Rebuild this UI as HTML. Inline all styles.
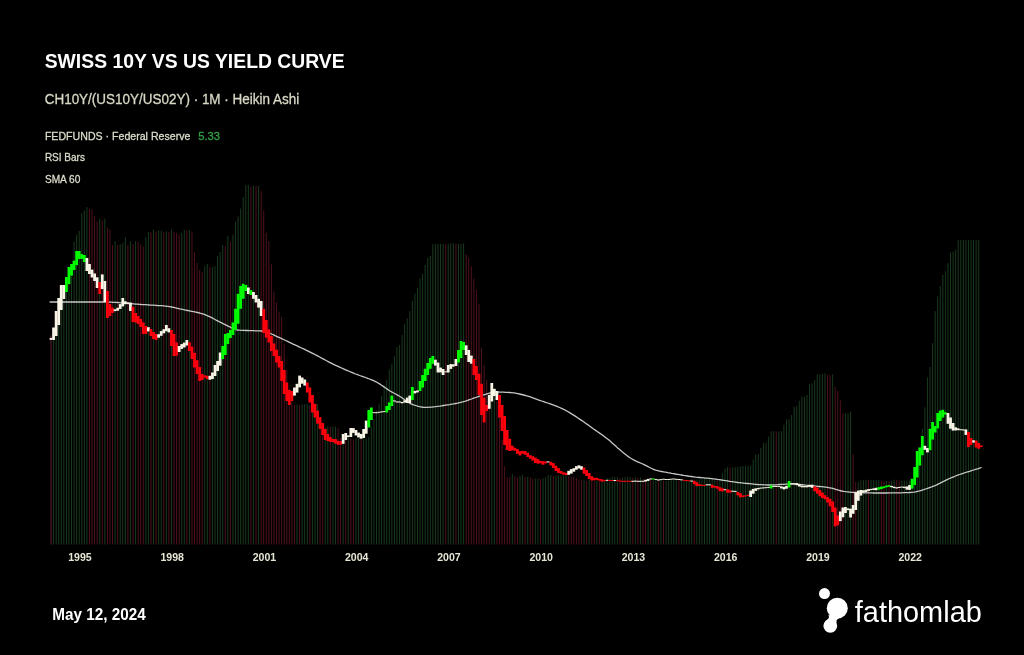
<!DOCTYPE html>
<html><head><meta charset="utf-8"><title>Swiss 10Y vs US Yield Curve</title>
<style>html,body{margin:0;padding:0;background:#000;}body{width:1024px;height:655px;overflow:hidden;font-family:"Liberation Sans",sans-serif;}svg{display:block}</style>
</head><body>
<svg width="1024" height="655" viewBox="0 0 1024 655">
<defs><filter id="bl" x="0" y="0" width="1024" height="655" filterUnits="userSpaceOnUse"><feGaussianBlur stdDeviation="0.5"/></filter></defs>
<rect width="1024" height="655" fill="#000"/>
<g id="bars"><rect x="50.51" y="335.4" width="1.00" height="209.1" fill="#64203a"/><rect x="53.07" y="331.2" width="1.00" height="213.3" fill="#193a1d"/><rect x="55.64" y="321.2" width="1.00" height="223.3" fill="#193a1d"/><rect x="58.20" y="300.5" width="1.00" height="244.0" fill="#193a1d"/><rect x="60.76" y="289.6" width="1.00" height="254.9" fill="#193a1d"/><rect x="63.32" y="289.1" width="1.00" height="255.4" fill="#193a1d"/><rect x="65.89" y="279.5" width="1.00" height="265.0" fill="#193a1d"/><rect x="68.45" y="267.6" width="1.00" height="276.9" fill="#193a1d"/><rect x="71.01" y="266.2" width="1.00" height="278.3" fill="#193a1d"/><rect x="73.57" y="241.9" width="1.00" height="302.6" fill="#193a1d"/><rect x="76.14" y="234.6" width="1.00" height="309.9" fill="#193a1d"/><rect x="78.70" y="230.9" width="1.00" height="313.6" fill="#193a1d"/><rect x="81.26" y="213.1" width="1.00" height="331.4" fill="#193a1d"/><rect x="83.83" y="210.3" width="1.00" height="334.2" fill="#193a1d"/><rect x="86.39" y="207.1" width="1.00" height="337.4" fill="#193a1d"/><rect x="88.95" y="208.9" width="1.00" height="335.6" fill="#50121d"/><rect x="91.51" y="209.4" width="1.00" height="335.1" fill="#50121d"/><rect x="94.08" y="216.3" width="1.00" height="328.2" fill="#50121d"/><rect x="96.64" y="221.3" width="1.00" height="323.2" fill="#50121d"/><rect x="99.20" y="218.6" width="1.00" height="325.9" fill="#193a1d"/><rect x="101.76" y="220.4" width="1.00" height="324.1" fill="#50121d"/><rect x="104.33" y="218.6" width="1.00" height="325.9" fill="#193a1d"/><rect x="106.89" y="227.7" width="1.00" height="316.8" fill="#50121d"/><rect x="109.45" y="229.6" width="1.00" height="314.9" fill="#50121d"/><rect x="112.02" y="245.1" width="1.00" height="299.4" fill="#50121d"/><rect x="114.58" y="241.0" width="1.00" height="303.5" fill="#193a1d"/><rect x="117.14" y="245.1" width="1.00" height="299.4" fill="#50121d"/><rect x="119.70" y="244.2" width="1.00" height="300.3" fill="#193a1d"/><rect x="122.27" y="242.8" width="1.00" height="301.7" fill="#193a1d"/><rect x="124.83" y="236.9" width="1.00" height="307.6" fill="#193a1d"/><rect x="127.39" y="245.1" width="1.00" height="299.4" fill="#50121d"/><rect x="129.95" y="241.5" width="1.00" height="303.0" fill="#193a1d"/><rect x="132.52" y="244.2" width="1.00" height="300.3" fill="#50121d"/><rect x="135.08" y="241.0" width="1.00" height="303.5" fill="#193a1d"/><rect x="137.64" y="241.9" width="1.00" height="302.6" fill="#50121d"/><rect x="140.20" y="243.8" width="1.00" height="300.8" fill="#50121d"/><rect x="142.77" y="246.5" width="1.00" height="298.0" fill="#50121d"/><rect x="145.33" y="237.3" width="1.00" height="307.2" fill="#193a1d"/><rect x="147.89" y="231.8" width="1.00" height="312.7" fill="#193a1d"/><rect x="150.46" y="232.3" width="1.00" height="312.2" fill="#50121d"/><rect x="153.02" y="229.6" width="1.00" height="314.9" fill="#193a1d"/><rect x="155.58" y="231.4" width="1.00" height="313.1" fill="#50121d"/><rect x="158.14" y="230.5" width="1.00" height="314.0" fill="#193a1d"/><rect x="160.71" y="230.5" width="1.00" height="314.0" fill="#193a1d"/><rect x="163.27" y="232.3" width="1.00" height="312.2" fill="#50121d"/><rect x="165.83" y="231.4" width="1.00" height="313.1" fill="#193a1d"/><rect x="168.39" y="232.3" width="1.00" height="312.2" fill="#50121d"/><rect x="170.96" y="229.6" width="1.00" height="314.9" fill="#193a1d"/><rect x="173.52" y="231.8" width="1.00" height="312.7" fill="#50121d"/><rect x="176.08" y="232.8" width="1.00" height="311.7" fill="#50121d"/><rect x="178.65" y="234.6" width="1.00" height="309.9" fill="#50121d"/><rect x="181.21" y="232.8" width="1.00" height="311.7" fill="#193a1d"/><rect x="183.77" y="229.6" width="1.00" height="314.9" fill="#193a1d"/><rect x="186.33" y="230.5" width="1.00" height="314.0" fill="#50121d"/><rect x="188.90" y="230.0" width="1.00" height="314.5" fill="#193a1d"/><rect x="191.46" y="231.8" width="1.00" height="312.7" fill="#50121d"/><rect x="194.02" y="252.0" width="1.00" height="292.5" fill="#50121d"/><rect x="196.58" y="263.0" width="1.00" height="281.5" fill="#50121d"/><rect x="199.15" y="269.9" width="1.00" height="274.6" fill="#50121d"/><rect x="201.71" y="272.1" width="1.00" height="272.4" fill="#50121d"/><rect x="204.27" y="266.2" width="1.00" height="278.3" fill="#193a1d"/><rect x="206.83" y="263.9" width="1.00" height="280.6" fill="#193a1d"/><rect x="209.40" y="267.1" width="1.00" height="277.4" fill="#50121d"/><rect x="211.96" y="267.1" width="1.00" height="277.4" fill="#193a1d"/><rect x="214.52" y="266.2" width="1.00" height="278.3" fill="#193a1d"/><rect x="217.09" y="255.7" width="1.00" height="288.8" fill="#193a1d"/><rect x="219.65" y="252.0" width="1.00" height="292.5" fill="#193a1d"/><rect x="222.21" y="245.1" width="1.00" height="299.4" fill="#193a1d"/><rect x="224.77" y="246.0" width="1.00" height="298.5" fill="#50121d"/><rect x="227.34" y="236.0" width="1.00" height="308.5" fill="#193a1d"/><rect x="229.90" y="241.5" width="1.00" height="303.0" fill="#50121d"/><rect x="232.46" y="234.6" width="1.00" height="309.9" fill="#193a1d"/><rect x="235.02" y="221.8" width="1.00" height="322.7" fill="#193a1d"/><rect x="237.59" y="216.3" width="1.00" height="328.2" fill="#193a1d"/><rect x="240.15" y="208.5" width="1.00" height="336.0" fill="#193a1d"/><rect x="242.71" y="197.0" width="1.00" height="347.5" fill="#193a1d"/><rect x="245.28" y="185.1" width="1.00" height="359.4" fill="#193a1d"/><rect x="247.84" y="184.7" width="1.00" height="359.8" fill="#193a1d"/><rect x="250.40" y="186.5" width="1.00" height="358.0" fill="#50121d"/><rect x="252.96" y="185.6" width="1.00" height="358.9" fill="#193a1d"/><rect x="255.53" y="186.0" width="1.00" height="358.5" fill="#50121d"/><rect x="258.09" y="186.0" width="1.00" height="358.5" fill="#193a1d"/><rect x="260.65" y="191.1" width="1.00" height="353.4" fill="#50121d"/><rect x="263.21" y="210.3" width="1.00" height="334.2" fill="#50121d"/><rect x="265.78" y="232.8" width="1.00" height="311.7" fill="#50121d"/><rect x="268.34" y="241.0" width="1.00" height="303.5" fill="#50121d"/><rect x="270.90" y="264.4" width="1.00" height="280.1" fill="#50121d"/><rect x="273.47" y="291.4" width="1.00" height="253.1" fill="#50121d"/><rect x="276.03" y="302.4" width="1.00" height="242.1" fill="#50121d"/><rect x="278.59" y="311.5" width="1.00" height="233.0" fill="#50121d"/><rect x="281.15" y="317.0" width="1.00" height="227.5" fill="#50121d"/><rect x="283.72" y="343.6" width="1.00" height="200.9" fill="#50121d"/><rect x="286.28" y="370.2" width="1.00" height="174.3" fill="#50121d"/><rect x="288.84" y="388.5" width="1.00" height="156.0" fill="#50121d"/><rect x="291.40" y="400.8" width="1.00" height="143.7" fill="#50121d"/><rect x="293.97" y="405.0" width="1.00" height="139.5" fill="#50121d"/><rect x="296.53" y="404.5" width="1.00" height="140.0" fill="#193a1d"/><rect x="299.09" y="405.0" width="1.00" height="139.5" fill="#50121d"/><rect x="301.65" y="404.1" width="1.00" height="140.4" fill="#193a1d"/><rect x="304.22" y="404.1" width="1.00" height="140.4" fill="#193a1d"/><rect x="306.78" y="404.1" width="1.00" height="140.4" fill="#193a1d"/><rect x="309.34" y="405.0" width="1.00" height="139.5" fill="#50121d"/><rect x="311.91" y="404.5" width="1.00" height="140.0" fill="#193a1d"/><rect x="314.47" y="404.1" width="1.00" height="140.4" fill="#193a1d"/><rect x="317.03" y="404.1" width="1.00" height="140.4" fill="#193a1d"/><rect x="319.59" y="422.8" width="1.00" height="121.7" fill="#50121d"/><rect x="322.16" y="427.4" width="1.00" height="117.1" fill="#50121d"/><rect x="324.72" y="427.4" width="1.00" height="117.1" fill="#193a1d"/><rect x="327.28" y="426.5" width="1.00" height="118.0" fill="#193a1d"/><rect x="329.84" y="426.9" width="1.00" height="117.6" fill="#50121d"/><rect x="332.41" y="426.5" width="1.00" height="118.0" fill="#193a1d"/><rect x="334.97" y="426.5" width="1.00" height="118.0" fill="#193a1d"/><rect x="337.53" y="428.3" width="1.00" height="116.2" fill="#50121d"/><rect x="340.10" y="437.9" width="1.00" height="106.6" fill="#50121d"/><rect x="342.66" y="437.0" width="1.00" height="107.5" fill="#193a1d"/><rect x="345.22" y="437.9" width="1.00" height="106.6" fill="#50121d"/><rect x="347.78" y="437.9" width="1.00" height="106.6" fill="#193a1d"/><rect x="350.35" y="438.4" width="1.00" height="106.1" fill="#50121d"/><rect x="352.91" y="439.3" width="1.00" height="105.2" fill="#50121d"/><rect x="355.47" y="438.4" width="1.00" height="106.1" fill="#193a1d"/><rect x="358.03" y="437.9" width="1.00" height="106.6" fill="#193a1d"/><rect x="360.60" y="438.4" width="1.00" height="106.1" fill="#50121d"/><rect x="363.16" y="438.4" width="1.00" height="106.1" fill="#193a1d"/><rect x="365.72" y="438.4" width="1.00" height="106.1" fill="#193a1d"/><rect x="368.29" y="437.0" width="1.00" height="107.5" fill="#193a1d"/><rect x="370.85" y="426.5" width="1.00" height="118.0" fill="#193a1d"/><rect x="373.41" y="418.7" width="1.00" height="125.8" fill="#193a1d"/><rect x="375.97" y="410.5" width="1.00" height="134.0" fill="#193a1d"/><rect x="378.54" y="403.6" width="1.00" height="140.9" fill="#193a1d"/><rect x="381.10" y="395.8" width="1.00" height="148.7" fill="#193a1d"/><rect x="383.66" y="385.3" width="1.00" height="159.2" fill="#193a1d"/><rect x="386.22" y="379.8" width="1.00" height="164.7" fill="#193a1d"/><rect x="388.79" y="369.7" width="1.00" height="174.8" fill="#193a1d"/><rect x="391.35" y="363.7" width="1.00" height="180.8" fill="#193a1d"/><rect x="393.91" y="356.4" width="1.00" height="188.1" fill="#193a1d"/><rect x="396.47" y="346.8" width="1.00" height="197.7" fill="#193a1d"/><rect x="399.04" y="345.0" width="1.00" height="199.5" fill="#193a1d"/><rect x="401.60" y="334.9" width="1.00" height="209.6" fill="#193a1d"/><rect x="404.16" y="323.9" width="1.00" height="220.6" fill="#193a1d"/><rect x="406.73" y="318.4" width="1.00" height="226.1" fill="#193a1d"/><rect x="409.29" y="311.1" width="1.00" height="233.4" fill="#193a1d"/><rect x="411.85" y="301.0" width="1.00" height="243.5" fill="#193a1d"/><rect x="414.41" y="293.7" width="1.00" height="250.8" fill="#193a1d"/><rect x="416.98" y="287.7" width="1.00" height="256.8" fill="#193a1d"/><rect x="419.54" y="278.6" width="1.00" height="265.9" fill="#193a1d"/><rect x="422.10" y="274.0" width="1.00" height="270.5" fill="#193a1d"/><rect x="424.66" y="264.8" width="1.00" height="279.7" fill="#193a1d"/><rect x="427.23" y="257.9" width="1.00" height="286.6" fill="#193a1d"/><rect x="429.79" y="255.7" width="1.00" height="288.8" fill="#193a1d"/><rect x="432.35" y="244.2" width="1.00" height="300.3" fill="#193a1d"/><rect x="434.92" y="243.8" width="1.00" height="300.8" fill="#193a1d"/><rect x="437.48" y="243.8" width="1.00" height="300.8" fill="#193a1d"/><rect x="440.04" y="243.8" width="1.00" height="300.8" fill="#193a1d"/><rect x="442.60" y="243.8" width="1.00" height="300.8" fill="#193a1d"/><rect x="445.17" y="244.2" width="1.00" height="300.3" fill="#50121d"/><rect x="447.73" y="243.8" width="1.00" height="300.8" fill="#193a1d"/><rect x="450.29" y="243.3" width="1.00" height="301.2" fill="#193a1d"/><rect x="452.85" y="243.3" width="1.00" height="301.2" fill="#193a1d"/><rect x="455.42" y="243.8" width="1.00" height="300.8" fill="#50121d"/><rect x="457.98" y="243.8" width="1.00" height="300.8" fill="#193a1d"/><rect x="460.54" y="243.8" width="1.00" height="300.8" fill="#193a1d"/><rect x="463.10" y="243.3" width="1.00" height="301.2" fill="#193a1d"/><rect x="465.67" y="254.3" width="1.00" height="290.2" fill="#50121d"/><rect x="468.23" y="257.9" width="1.00" height="286.6" fill="#50121d"/><rect x="470.79" y="266.2" width="1.00" height="278.3" fill="#50121d"/><rect x="473.36" y="278.6" width="1.00" height="265.9" fill="#50121d"/><rect x="475.92" y="290.0" width="1.00" height="254.5" fill="#50121d"/><rect x="478.48" y="303.7" width="1.00" height="240.8" fill="#50121d"/><rect x="481.04" y="347.7" width="1.00" height="196.8" fill="#50121d"/><rect x="483.61" y="364.7" width="1.00" height="179.8" fill="#50121d"/><rect x="486.17" y="379.8" width="1.00" height="164.7" fill="#50121d"/><rect x="488.73" y="393.5" width="1.00" height="151.0" fill="#50121d"/><rect x="491.29" y="392.6" width="1.00" height="151.9" fill="#193a1d"/><rect x="493.86" y="392.1" width="1.00" height="152.4" fill="#193a1d"/><rect x="496.42" y="392.6" width="1.00" height="151.9" fill="#50121d"/><rect x="498.98" y="401.3" width="1.00" height="143.2" fill="#50121d"/><rect x="501.55" y="439.8" width="1.00" height="104.7" fill="#50121d"/><rect x="504.11" y="466.3" width="1.00" height="78.2" fill="#50121d"/><rect x="506.67" y="476.9" width="1.00" height="67.6" fill="#50121d"/><rect x="509.23" y="477.3" width="1.00" height="67.2" fill="#50121d"/><rect x="511.80" y="474.1" width="1.00" height="70.4" fill="#193a1d"/><rect x="514.36" y="476.0" width="1.00" height="68.5" fill="#50121d"/><rect x="516.92" y="477.3" width="1.00" height="67.2" fill="#50121d"/><rect x="519.48" y="476.0" width="1.00" height="68.5" fill="#193a1d"/><rect x="522.05" y="474.6" width="1.00" height="69.9" fill="#193a1d"/><rect x="524.61" y="476.9" width="1.00" height="67.6" fill="#50121d"/><rect x="527.17" y="476.9" width="1.00" height="67.6" fill="#193a1d"/><rect x="529.74" y="477.3" width="1.00" height="67.2" fill="#50121d"/><rect x="532.30" y="478.7" width="1.00" height="65.8" fill="#50121d"/><rect x="534.86" y="478.7" width="1.00" height="65.8" fill="#193a1d"/><rect x="537.42" y="478.7" width="1.00" height="65.8" fill="#193a1d"/><rect x="539.99" y="479.2" width="1.00" height="65.3" fill="#50121d"/><rect x="542.55" y="478.2" width="1.00" height="66.3" fill="#193a1d"/><rect x="545.11" y="476.9" width="1.00" height="67.6" fill="#193a1d"/><rect x="547.67" y="475.0" width="1.00" height="69.5" fill="#193a1d"/><rect x="550.24" y="475.0" width="1.00" height="69.5" fill="#193a1d"/><rect x="552.80" y="476.0" width="1.00" height="68.5" fill="#50121d"/><rect x="555.36" y="476.0" width="1.00" height="68.5" fill="#193a1d"/><rect x="557.92" y="475.5" width="1.00" height="69.0" fill="#193a1d"/><rect x="560.49" y="475.5" width="1.00" height="69.0" fill="#193a1d"/><rect x="563.05" y="475.5" width="1.00" height="69.0" fill="#193a1d"/><rect x="565.61" y="475.5" width="1.00" height="69.0" fill="#193a1d"/><rect x="568.18" y="476.0" width="1.00" height="68.5" fill="#50121d"/><rect x="570.74" y="476.4" width="1.00" height="68.1" fill="#50121d"/><rect x="573.30" y="476.9" width="1.00" height="67.6" fill="#50121d"/><rect x="575.86" y="477.8" width="1.00" height="66.7" fill="#50121d"/><rect x="578.43" y="479.6" width="1.00" height="64.9" fill="#50121d"/><rect x="580.99" y="480.1" width="1.00" height="64.4" fill="#50121d"/><rect x="583.55" y="480.1" width="1.00" height="64.4" fill="#193a1d"/><rect x="586.11" y="481.0" width="1.00" height="63.5" fill="#50121d"/><rect x="588.68" y="479.6" width="1.00" height="64.9" fill="#193a1d"/><rect x="591.24" y="480.5" width="1.00" height="64.0" fill="#50121d"/><rect x="593.80" y="481.0" width="1.00" height="63.5" fill="#50121d"/><rect x="596.37" y="480.5" width="1.00" height="64.0" fill="#193a1d"/><rect x="598.93" y="481.0" width="1.00" height="63.5" fill="#50121d"/><rect x="601.49" y="480.5" width="1.00" height="64.0" fill="#193a1d"/><rect x="604.05" y="479.6" width="1.00" height="64.9" fill="#193a1d"/><rect x="606.62" y="478.2" width="1.00" height="66.3" fill="#193a1d"/><rect x="609.18" y="477.8" width="1.00" height="66.7" fill="#193a1d"/><rect x="611.74" y="476.9" width="1.00" height="67.6" fill="#193a1d"/><rect x="614.30" y="476.9" width="1.00" height="67.6" fill="#193a1d"/><rect x="616.87" y="476.9" width="1.00" height="67.6" fill="#193a1d"/><rect x="619.43" y="478.2" width="1.00" height="66.3" fill="#50121d"/><rect x="621.99" y="477.8" width="1.00" height="66.7" fill="#193a1d"/><rect x="624.56" y="476.9" width="1.00" height="67.6" fill="#193a1d"/><rect x="627.12" y="476.9" width="1.00" height="67.6" fill="#193a1d"/><rect x="629.68" y="476.9" width="1.00" height="67.6" fill="#193a1d"/><rect x="632.24" y="477.8" width="1.00" height="66.7" fill="#50121d"/><rect x="634.81" y="477.3" width="1.00" height="67.2" fill="#193a1d"/><rect x="637.37" y="477.8" width="1.00" height="66.7" fill="#50121d"/><rect x="639.93" y="477.3" width="1.00" height="67.2" fill="#193a1d"/><rect x="642.49" y="479.2" width="1.00" height="65.3" fill="#50121d"/><rect x="645.06" y="480.1" width="1.00" height="64.4" fill="#50121d"/><rect x="647.62" y="480.1" width="1.00" height="64.4" fill="#193a1d"/><rect x="650.18" y="480.5" width="1.00" height="64.0" fill="#50121d"/><rect x="652.74" y="480.5" width="1.00" height="64.0" fill="#193a1d"/><rect x="655.31" y="480.1" width="1.00" height="64.4" fill="#193a1d"/><rect x="657.87" y="480.5" width="1.00" height="64.0" fill="#50121d"/><rect x="660.43" y="480.1" width="1.00" height="64.4" fill="#193a1d"/><rect x="663.00" y="481.0" width="1.00" height="63.5" fill="#50121d"/><rect x="665.56" y="481.0" width="1.00" height="63.5" fill="#193a1d"/><rect x="668.12" y="480.5" width="1.00" height="64.0" fill="#193a1d"/><rect x="670.68" y="480.1" width="1.00" height="64.4" fill="#193a1d"/><rect x="673.25" y="480.1" width="1.00" height="64.4" fill="#193a1d"/><rect x="675.81" y="479.6" width="1.00" height="64.9" fill="#193a1d"/><rect x="678.37" y="480.1" width="1.00" height="64.4" fill="#50121d"/><rect x="680.93" y="480.1" width="1.00" height="64.4" fill="#193a1d"/><rect x="683.50" y="480.1" width="1.00" height="64.4" fill="#193a1d"/><rect x="686.06" y="480.1" width="1.00" height="64.4" fill="#193a1d"/><rect x="688.62" y="480.1" width="1.00" height="64.4" fill="#193a1d"/><rect x="691.19" y="478.7" width="1.00" height="65.8" fill="#193a1d"/><rect x="693.75" y="479.2" width="1.00" height="65.3" fill="#50121d"/><rect x="696.31" y="479.2" width="1.00" height="65.3" fill="#193a1d"/><rect x="698.87" y="479.2" width="1.00" height="65.3" fill="#193a1d"/><rect x="701.44" y="478.7" width="1.00" height="65.8" fill="#193a1d"/><rect x="704.00" y="478.7" width="1.00" height="65.8" fill="#193a1d"/><rect x="706.56" y="478.2" width="1.00" height="66.3" fill="#193a1d"/><rect x="709.12" y="478.2" width="1.00" height="66.3" fill="#193a1d"/><rect x="711.69" y="477.8" width="1.00" height="66.7" fill="#193a1d"/><rect x="714.25" y="477.8" width="1.00" height="66.7" fill="#193a1d"/><rect x="716.81" y="478.7" width="1.00" height="65.8" fill="#50121d"/><rect x="719.38" y="478.7" width="1.00" height="65.8" fill="#193a1d"/><rect x="721.94" y="473.2" width="1.00" height="71.3" fill="#193a1d"/><rect x="724.50" y="468.6" width="1.00" height="75.9" fill="#193a1d"/><rect x="727.06" y="466.8" width="1.00" height="77.7" fill="#193a1d"/><rect x="729.63" y="467.7" width="1.00" height="76.8" fill="#50121d"/><rect x="732.19" y="467.3" width="1.00" height="77.2" fill="#193a1d"/><rect x="734.75" y="467.3" width="1.00" height="77.2" fill="#193a1d"/><rect x="737.31" y="466.8" width="1.00" height="77.7" fill="#193a1d"/><rect x="739.88" y="466.3" width="1.00" height="78.2" fill="#193a1d"/><rect x="742.44" y="465.9" width="1.00" height="78.6" fill="#193a1d"/><rect x="745.00" y="465.9" width="1.00" height="78.6" fill="#193a1d"/><rect x="747.56" y="465.9" width="1.00" height="78.6" fill="#193a1d"/><rect x="750.13" y="465.4" width="1.00" height="79.1" fill="#193a1d"/><rect x="752.69" y="459.5" width="1.00" height="85.0" fill="#193a1d"/><rect x="755.25" y="454.4" width="1.00" height="90.1" fill="#193a1d"/><rect x="757.82" y="454.0" width="1.00" height="90.5" fill="#193a1d"/><rect x="760.38" y="448.0" width="1.00" height="96.5" fill="#193a1d"/><rect x="762.94" y="443.0" width="1.00" height="101.5" fill="#193a1d"/><rect x="765.50" y="442.5" width="1.00" height="102.0" fill="#193a1d"/><rect x="768.07" y="436.6" width="1.00" height="107.9" fill="#193a1d"/><rect x="770.63" y="431.5" width="1.00" height="113.0" fill="#193a1d"/><rect x="773.19" y="431.1" width="1.00" height="113.4" fill="#193a1d"/><rect x="775.75" y="431.5" width="1.00" height="113.0" fill="#50121d"/><rect x="778.32" y="431.5" width="1.00" height="113.0" fill="#193a1d"/><rect x="780.88" y="431.1" width="1.00" height="113.4" fill="#193a1d"/><rect x="783.44" y="424.7" width="1.00" height="119.8" fill="#193a1d"/><rect x="786.01" y="419.6" width="1.00" height="124.9" fill="#193a1d"/><rect x="788.57" y="419.2" width="1.00" height="125.3" fill="#193a1d"/><rect x="791.13" y="415.0" width="1.00" height="129.5" fill="#193a1d"/><rect x="793.69" y="406.8" width="1.00" height="137.7" fill="#193a1d"/><rect x="796.26" y="406.3" width="1.00" height="138.2" fill="#193a1d"/><rect x="798.82" y="400.8" width="1.00" height="143.7" fill="#193a1d"/><rect x="801.38" y="396.7" width="1.00" height="147.8" fill="#193a1d"/><rect x="803.94" y="396.7" width="1.00" height="147.8" fill="#193a1d"/><rect x="806.51" y="394.9" width="1.00" height="149.6" fill="#193a1d"/><rect x="809.07" y="383.9" width="1.00" height="160.6" fill="#193a1d"/><rect x="811.63" y="383.4" width="1.00" height="161.1" fill="#193a1d"/><rect x="814.19" y="380.2" width="1.00" height="164.3" fill="#193a1d"/><rect x="816.76" y="374.3" width="1.00" height="170.2" fill="#193a1d"/><rect x="819.32" y="374.3" width="1.00" height="170.2" fill="#193a1d"/><rect x="821.88" y="373.8" width="1.00" height="170.7" fill="#193a1d"/><rect x="824.45" y="373.4" width="1.00" height="171.1" fill="#193a1d"/><rect x="827.01" y="374.7" width="1.00" height="169.8" fill="#50121d"/><rect x="829.57" y="375.2" width="1.00" height="169.3" fill="#50121d"/><rect x="832.13" y="374.3" width="1.00" height="170.2" fill="#193a1d"/><rect x="834.70" y="386.6" width="1.00" height="157.9" fill="#50121d"/><rect x="837.26" y="390.8" width="1.00" height="153.7" fill="#50121d"/><rect x="839.82" y="400.4" width="1.00" height="144.1" fill="#50121d"/><rect x="842.38" y="413.2" width="1.00" height="131.3" fill="#50121d"/><rect x="844.95" y="413.2" width="1.00" height="131.3" fill="#193a1d"/><rect x="847.51" y="413.2" width="1.00" height="131.3" fill="#193a1d"/><rect x="850.07" y="411.8" width="1.00" height="132.7" fill="#193a1d"/><rect x="852.64" y="454.4" width="1.00" height="90.1" fill="#50121d"/><rect x="855.20" y="481.9" width="1.00" height="62.6" fill="#50121d"/><rect x="857.76" y="481.9" width="1.00" height="62.6" fill="#193a1d"/><rect x="860.32" y="480.5" width="1.00" height="64.0" fill="#193a1d"/><rect x="862.89" y="480.1" width="1.00" height="64.4" fill="#193a1d"/><rect x="865.45" y="479.6" width="1.00" height="64.9" fill="#193a1d"/><rect x="868.01" y="480.1" width="1.00" height="64.4" fill="#50121d"/><rect x="870.57" y="480.1" width="1.00" height="64.4" fill="#193a1d"/><rect x="873.14" y="480.1" width="1.00" height="64.4" fill="#193a1d"/><rect x="875.70" y="480.1" width="1.00" height="64.4" fill="#193a1d"/><rect x="878.26" y="480.1" width="1.00" height="64.4" fill="#193a1d"/><rect x="880.83" y="480.5" width="1.00" height="64.0" fill="#50121d"/><rect x="883.39" y="481.0" width="1.00" height="63.5" fill="#50121d"/><rect x="885.95" y="481.0" width="1.00" height="63.5" fill="#193a1d"/><rect x="888.51" y="481.5" width="1.00" height="63.0" fill="#50121d"/><rect x="891.08" y="480.5" width="1.00" height="64.0" fill="#193a1d"/><rect x="893.64" y="479.6" width="1.00" height="64.9" fill="#193a1d"/><rect x="896.20" y="480.1" width="1.00" height="64.4" fill="#50121d"/><rect x="898.76" y="480.5" width="1.00" height="64.0" fill="#50121d"/><rect x="901.33" y="480.5" width="1.00" height="64.0" fill="#193a1d"/><rect x="903.89" y="480.5" width="1.00" height="64.0" fill="#193a1d"/><rect x="906.45" y="480.5" width="1.00" height="64.0" fill="#193a1d"/><rect x="909.01" y="480.5" width="1.00" height="64.0" fill="#193a1d"/><rect x="911.58" y="480.5" width="1.00" height="64.0" fill="#193a1d"/><rect x="914.14" y="475.0" width="1.00" height="69.5" fill="#193a1d"/><rect x="916.70" y="469.1" width="1.00" height="75.4" fill="#193a1d"/><rect x="919.27" y="448.9" width="1.00" height="95.6" fill="#193a1d"/><rect x="921.83" y="428.8" width="1.00" height="115.7" fill="#193a1d"/><rect x="924.39" y="407.3" width="1.00" height="137.2" fill="#193a1d"/><rect x="926.95" y="377.5" width="1.00" height="167.0" fill="#193a1d"/><rect x="929.52" y="367.0" width="1.00" height="177.5" fill="#193a1d"/><rect x="932.08" y="343.1" width="1.00" height="201.4" fill="#193a1d"/><rect x="934.64" y="311.1" width="1.00" height="233.4" fill="#193a1d"/><rect x="937.20" y="296.4" width="1.00" height="248.1" fill="#193a1d"/><rect x="939.77" y="285.9" width="1.00" height="258.6" fill="#193a1d"/><rect x="942.33" y="274.9" width="1.00" height="269.6" fill="#193a1d"/><rect x="944.89" y="271.2" width="1.00" height="273.3" fill="#193a1d"/><rect x="947.46" y="263.0" width="1.00" height="281.5" fill="#193a1d"/><rect x="950.02" y="252.5" width="1.00" height="292.0" fill="#193a1d"/><rect x="952.58" y="251.5" width="1.00" height="293.0" fill="#193a1d"/><rect x="955.14" y="249.7" width="1.00" height="294.8" fill="#193a1d"/><rect x="957.71" y="240.1" width="1.00" height="304.4" fill="#193a1d"/><rect x="960.27" y="240.1" width="1.00" height="304.4" fill="#193a1d"/><rect x="962.83" y="240.1" width="1.00" height="304.4" fill="#193a1d"/><rect x="965.39" y="240.1" width="1.00" height="304.4" fill="#193a1d"/><rect x="967.96" y="240.1" width="1.00" height="304.4" fill="#193a1d"/><rect x="970.52" y="240.1" width="1.00" height="304.4" fill="#193a1d"/><rect x="973.08" y="240.1" width="1.00" height="304.4" fill="#193a1d"/><rect x="975.64" y="240.1" width="1.00" height="304.4" fill="#193a1d"/><rect x="978.21" y="240.1" width="1.00" height="304.4" fill="#193a1d"/></g>
<path d="M49.6 302.0 L51.6 302.0 L53.6 302.0 L55.6 302.0 L57.6 302.0 L59.6 302.0 L61.6 302.0 L63.6 302.0 L65.6 302.0 L67.6 302.0 L69.6 302.0 L71.6 302.0 L73.6 302.0 L75.6 302.0 L77.6 302.0 L79.6 302.0 L81.6 302.0 L83.6 302.0 L85.6 302.0 L87.6 302.0 L89.6 302.0 L91.6 302.0 L93.6 302.0 L95.6 302.0 L97.6 302.0 L99.6 302.0 L101.6 302.0 L103.6 302.0 L105.6 302.0 L107.6 302.1 L109.6 302.1 L111.6 302.2 L113.6 302.3 L115.6 302.4 L117.6 302.5 L119.6 302.7 L121.6 302.8 L123.6 303.0 L125.6 303.2 L127.6 303.4 L129.6 303.6 L131.6 303.7 L133.6 303.9 L135.6 304.1 L137.6 304.2 L139.6 304.3 L141.6 304.5 L143.6 304.6 L145.6 304.7 L147.6 304.8 L149.6 305.0 L151.6 305.1 L153.6 305.2 L155.6 305.3 L157.6 305.5 L159.6 305.6 L161.6 305.7 L163.6 305.9 L165.6 306.1 L167.6 306.4 L169.6 306.7 L171.6 307.0 L173.6 307.4 L175.6 307.9 L177.6 308.3 L179.6 308.8 L181.6 309.2 L183.6 309.7 L185.6 310.1 L187.6 310.5 L189.6 310.9 L191.6 311.3 L193.6 311.7 L195.6 312.1 L197.6 312.5 L199.6 313.0 L201.6 313.6 L203.6 314.2 L205.6 314.9 L207.6 315.8 L209.6 316.7 L211.6 317.7 L213.6 318.7 L215.6 319.8 L217.6 320.8 L219.6 321.8 L221.6 322.8 L223.6 323.8 L225.6 324.8 L227.6 325.8 L229.6 326.8 L231.6 327.9 L233.6 328.8 L235.6 329.6 L237.6 330.0 L239.6 330.2 L241.6 330.3 L243.6 330.4 L245.6 330.5 L247.6 330.5 L249.6 330.6 L251.6 330.6 L253.6 330.7 L255.6 330.8 L257.6 330.8 L259.6 330.9 L261.6 331.0 L263.6 331.3 L265.6 331.7 L267.6 332.3 L269.6 333.1 L271.6 334.0 L273.6 334.9 L275.6 335.9 L277.6 336.8 L279.6 337.7 L281.6 338.6 L283.6 339.5 L285.6 340.5 L287.6 341.4 L289.6 342.4 L291.6 343.3 L293.6 344.3 L295.6 345.2 L297.6 346.1 L299.6 347.1 L301.6 348.0 L303.6 348.9 L305.6 349.9 L307.6 350.8 L309.6 351.8 L311.6 352.8 L313.6 353.8 L315.6 354.9 L317.6 355.9 L319.6 357.0 L321.6 358.1 L323.6 359.1 L325.6 360.2 L327.6 361.3 L329.6 362.3 L331.6 363.3 L333.6 364.3 L335.6 365.3 L337.6 366.2 L339.6 367.1 L341.6 368.0 L343.6 368.9 L345.6 369.8 L347.6 370.7 L349.6 371.5 L351.6 372.3 L353.6 373.2 L355.6 374.0 L357.6 374.7 L359.6 375.5 L361.6 376.2 L363.6 376.8 L365.6 377.5 L367.6 378.3 L369.6 379.0 L371.6 379.8 L373.6 380.7 L375.6 381.6 L377.6 382.7 L379.6 383.9 L381.6 385.3 L383.6 386.6 L385.6 388.0 L387.6 389.4 L389.6 390.7 L391.6 391.9 L393.6 393.0 L395.6 394.0 L397.6 395.1 L399.6 396.2 L401.6 397.5 L403.6 399.0 L405.6 400.5 L407.6 401.9 L409.6 403.1 L411.6 404.1 L413.6 404.9 L415.6 405.5 L417.6 406.1 L419.6 406.6 L421.6 407.0 L423.6 407.3 L425.6 407.4 L427.6 407.4 L429.6 407.2 L431.6 407.1 L433.6 406.8 L435.6 406.6 L437.6 406.3 L439.6 406.1 L441.6 405.8 L443.6 405.5 L445.6 405.2 L447.6 404.9 L449.6 404.6 L451.6 404.2 L453.6 403.9 L455.6 403.5 L457.6 403.1 L459.6 402.6 L461.6 402.2 L463.6 401.7 L465.6 401.1 L467.6 400.4 L469.6 399.7 L471.6 399.0 L473.6 398.2 L475.6 397.5 L477.6 396.8 L479.6 396.1 L481.6 395.5 L483.6 394.9 L485.6 394.3 L487.6 393.7 L489.6 393.2 L491.6 392.7 L493.6 392.4 L495.6 392.2 L497.6 392.1 L499.6 392.1 L501.6 392.1 L503.6 392.2 L505.6 392.3 L507.6 392.4 L509.6 392.5 L511.6 392.7 L513.6 392.9 L515.6 393.2 L517.6 393.6 L519.6 394.0 L521.6 394.5 L523.6 395.0 L525.6 395.5 L527.6 396.1 L529.6 396.7 L531.6 397.3 L533.6 398.1 L535.6 398.8 L537.6 399.6 L539.6 400.3 L541.6 401.0 L543.6 401.7 L545.6 402.4 L547.6 403.0 L549.6 403.7 L551.6 404.4 L553.6 405.1 L555.6 405.9 L557.6 406.7 L559.6 407.5 L561.6 408.4 L563.6 409.3 L565.6 410.4 L567.6 411.5 L569.6 412.6 L571.6 413.9 L573.6 415.1 L575.6 416.4 L577.6 417.7 L579.6 419.1 L581.6 420.4 L583.6 421.8 L585.6 423.2 L587.6 424.6 L589.6 426.1 L591.6 427.5 L593.6 429.0 L595.6 430.4 L597.6 431.8 L599.6 433.1 L601.6 434.5 L603.6 435.9 L605.6 437.4 L607.6 438.9 L609.6 440.6 L611.6 442.4 L613.6 444.2 L615.6 446.0 L617.6 447.9 L619.6 449.6 L621.6 451.3 L623.6 452.9 L625.6 454.5 L627.6 456.1 L629.6 457.5 L631.6 458.8 L633.6 459.9 L635.6 460.9 L637.6 461.8 L639.6 462.7 L641.6 463.5 L643.6 464.4 L645.6 465.4 L647.6 466.4 L649.6 467.5 L651.6 468.5 L653.6 469.3 L655.6 470.1 L657.6 470.6 L659.6 471.1 L661.6 471.5 L663.6 471.9 L665.6 472.2 L667.6 472.6 L669.6 472.9 L671.6 473.3 L673.6 473.6 L675.6 474.0 L677.6 474.3 L679.6 474.7 L681.6 475.0 L683.6 475.4 L685.6 475.7 L687.6 476.0 L689.6 476.3 L691.6 476.5 L693.6 476.8 L695.6 477.1 L697.6 477.3 L699.6 477.5 L701.6 477.7 L703.6 477.9 L705.6 478.1 L707.6 478.2 L709.6 478.4 L711.6 478.6 L713.6 478.9 L715.6 479.1 L717.6 479.4 L719.6 479.6 L721.6 480.0 L723.6 480.3 L725.6 480.6 L727.6 480.9 L729.6 481.3 L731.6 481.6 L733.6 481.9 L735.6 482.2 L737.6 482.5 L739.6 482.7 L741.6 482.9 L743.6 483.1 L745.6 483.3 L747.6 483.5 L749.6 483.7 L751.6 483.9 L753.6 484.1 L755.6 484.3 L757.6 484.5 L759.6 484.6 L761.6 484.7 L763.6 484.8 L765.6 484.9 L767.6 485.0 L769.6 485.0 L771.6 484.9 L773.6 484.9 L775.6 484.8 L777.6 484.7 L779.6 484.5 L781.6 484.4 L783.6 484.3 L785.6 484.1 L787.6 484.1 L789.6 484.0 L791.6 484.1 L793.6 484.1 L795.6 484.2 L797.6 484.4 L799.6 484.5 L801.6 484.7 L803.6 484.9 L805.6 485.2 L807.6 485.4 L809.6 485.6 L811.6 485.7 L813.6 485.9 L815.6 486.1 L817.6 486.3 L819.6 486.5 L821.6 486.7 L823.6 486.9 L825.6 487.1 L827.6 487.4 L829.6 487.8 L831.6 488.2 L833.6 488.7 L835.6 489.3 L837.6 489.9 L839.6 490.5 L841.6 491.0 L843.6 491.4 L845.6 491.7 L847.6 491.9 L849.6 492.1 L851.6 492.3 L853.6 492.4 L855.6 492.5 L857.6 492.6 L859.6 492.7 L861.6 492.7 L863.6 492.8 L865.6 492.8 L867.6 492.9 L869.6 492.9 L871.6 492.9 L873.6 493.0 L875.6 493.0 L877.6 493.0 L879.6 493.0 L881.6 493.0 L883.6 493.0 L885.6 493.0 L887.6 493.0 L889.6 492.9 L891.6 492.9 L893.6 492.9 L895.6 492.9 L897.6 492.8 L899.6 492.8 L901.6 492.8 L903.6 492.7 L905.6 492.7 L907.6 492.6 L909.6 492.5 L911.6 492.4 L913.6 492.2 L915.6 491.9 L917.6 491.4 L919.6 490.9 L921.6 490.3 L923.6 489.7 L925.6 489.0 L927.6 488.3 L929.6 487.6 L931.6 486.9 L933.6 486.1 L935.6 485.3 L937.6 484.3 L939.6 483.4 L941.6 482.4 L943.6 481.4 L945.6 480.4 L947.6 479.4 L949.6 478.5 L951.6 477.6 L953.6 476.8 L955.6 476.0 L957.6 475.2 L959.6 474.5 L961.6 473.8 L963.6 473.2 L965.6 472.5 L967.6 471.9 L969.6 471.3 L971.6 470.6 L973.6 470.0 L975.6 469.4 L977.6 468.8 L979.6 468.1 L981.6 467.5" fill="none" stroke="#c6c6c6" stroke-width="1.3" stroke-linejoin="round"/>
<g id="candles" filter="url(#bl)"><rect x="49.61" y="337.9" width="2.80" height="2.0" fill="#f8f4e6"/><rect x="52.17" y="327.5" width="2.80" height="12.5" fill="#f8f4e6"/><rect x="54.74" y="311.0" width="2.80" height="25.0" fill="#f8f4e6"/><rect x="57.30" y="298.0" width="2.80" height="27.0" fill="#f8f4e6"/><rect x="59.86" y="285.0" width="2.80" height="25.0" fill="#f8f4e6"/><rect x="62.42" y="285.0" width="2.80" height="14.0" fill="#f8f4e6"/><rect x="64.99" y="277.0" width="2.80" height="15.0" fill="#00ff00"/><rect x="67.55" y="267.0" width="2.80" height="17.1" fill="#00ff00"/><rect x="70.11" y="264.0" width="2.80" height="11.6" fill="#00ff00"/><rect x="72.67" y="260.6" width="2.80" height="9.4" fill="#00ff00"/><rect x="75.24" y="251.0" width="2.80" height="14.2" fill="#00ff00"/><rect x="77.80" y="251.0" width="2.80" height="8.0" fill="#00ff00"/><rect x="80.36" y="254.1" width="2.80" height="4.8" fill="#00ff00"/><rect x="82.93" y="255.0" width="2.80" height="7.0" fill="#00ff00"/><rect x="85.49" y="258.0" width="2.80" height="13.0" fill="#f8f4e6"/><rect x="88.05" y="264.0" width="2.80" height="10.0" fill="#f8f4e6"/><rect x="90.61" y="269.6" width="2.80" height="7.9" fill="#f8f4e6"/><rect x="93.18" y="273.5" width="2.80" height="7.5" fill="#f8f4e6"/><rect x="95.74" y="277.3" width="2.80" height="10.7" fill="#f8f4e6"/><rect x="98.30" y="282.0" width="2.80" height="12.0" fill="#ff0010"/><rect x="100.86" y="274.4" width="2.80" height="14.6" fill="#f8f4e6"/><rect x="103.43" y="281.0" width="2.80" height="21.0" fill="#f8f4e6"/><rect x="105.99" y="291.0" width="2.80" height="27.0" fill="#ff0010"/><rect x="108.55" y="304.0" width="2.80" height="12.0" fill="#ff0010"/><rect x="111.12" y="307.6" width="2.80" height="5.4" fill="#ff0010"/><rect x="113.68" y="309.3" width="2.80" height="1.8" fill="#f8f4e6"/><rect x="116.24" y="307.8" width="2.80" height="2.9" fill="#f8f4e6"/><rect x="118.80" y="304.1" width="2.80" height="4.8" fill="#f8f4e6"/><rect x="121.37" y="298.0" width="2.80" height="8.4" fill="#f8f4e6"/><rect x="123.93" y="301.3" width="2.80" height="2.9" fill="#f8f4e6"/><rect x="126.49" y="302.4" width="2.80" height="1.7" fill="#f8f4e6"/><rect x="129.05" y="302.5" width="2.80" height="8.5" fill="#f8f4e6"/><rect x="131.62" y="306.8" width="2.80" height="15.2" fill="#ff0010"/><rect x="134.18" y="313.0" width="2.80" height="9.5" fill="#ff0010"/><rect x="136.74" y="316.0" width="2.80" height="8.0" fill="#ff0010"/><rect x="139.30" y="319.0" width="2.80" height="8.0" fill="#ff0010"/><rect x="141.87" y="322.5" width="2.80" height="11.5" fill="#ff0010"/><rect x="144.43" y="326.0" width="2.80" height="8.0" fill="#ff0010"/><rect x="146.99" y="327.2" width="2.80" height="4.2" fill="#f8f4e6"/><rect x="149.56" y="329.0" width="2.80" height="7.0" fill="#ff0010"/><rect x="152.12" y="332.0" width="2.80" height="7.0" fill="#ff0010"/><rect x="154.68" y="334.0" width="2.80" height="6.0" fill="#ff0010"/><rect x="157.24" y="334.2" width="2.80" height="3.5" fill="#f8f4e6"/><rect x="159.81" y="331.1" width="2.80" height="4.7" fill="#f8f4e6"/><rect x="162.37" y="329.2" width="2.80" height="4.1" fill="#f8f4e6"/><rect x="164.93" y="325.0" width="2.80" height="6.2" fill="#f8f4e6"/><rect x="167.49" y="328.2" width="2.80" height="4.2" fill="#f8f4e6"/><rect x="170.06" y="330.0" width="2.80" height="16.0" fill="#ff0010"/><rect x="172.62" y="334.0" width="2.80" height="22.0" fill="#ff0010"/><rect x="175.18" y="342.5" width="2.80" height="13.1" fill="#ff0010"/><rect x="177.75" y="346.0" width="2.80" height="6.0" fill="#f8f4e6"/><rect x="180.31" y="344.1" width="2.80" height="4.8" fill="#f8f4e6"/><rect x="182.87" y="342.6" width="2.80" height="4.8" fill="#f8f4e6"/><rect x="185.43" y="340.0" width="2.80" height="5.5" fill="#f8f4e6"/><rect x="188.00" y="342.2" width="2.80" height="8.8" fill="#ff0010"/><rect x="190.56" y="346.6" width="2.80" height="12.4" fill="#ff0010"/><rect x="193.12" y="352.8" width="2.80" height="14.7" fill="#ff0010"/><rect x="195.68" y="360.2" width="2.80" height="13.8" fill="#ff0010"/><rect x="198.25" y="367.1" width="2.80" height="13.9" fill="#ff0010"/><rect x="200.81" y="374.0" width="2.80" height="6.0" fill="#ff0010"/><rect x="203.37" y="375.3" width="2.80" height="2.3" fill="#ff0010"/><rect x="205.93" y="375.8" width="2.80" height="3.3" fill="#ff0010"/><rect x="208.50" y="375.8" width="2.80" height="4.0" fill="#f8f4e6"/><rect x="211.06" y="372.5" width="2.80" height="6.5" fill="#f8f4e6"/><rect x="213.62" y="365.0" width="2.80" height="11.0" fill="#f8f4e6"/><rect x="216.19" y="361.0" width="2.80" height="10.0" fill="#f8f4e6"/><rect x="218.75" y="352.5" width="2.80" height="13.2" fill="#f8f4e6"/><rect x="221.31" y="346.0" width="2.80" height="13.1" fill="#00ff00"/><rect x="223.87" y="334.0" width="2.80" height="21.0" fill="#00ff00"/><rect x="226.44" y="333.0" width="2.80" height="11.0" fill="#00ff00"/><rect x="229.00" y="330.0" width="2.80" height="8.1" fill="#00ff00"/><rect x="231.56" y="322.5" width="2.80" height="12.5" fill="#00ff00"/><rect x="234.12" y="308.8" width="2.80" height="21.2" fill="#00ff00"/><rect x="236.69" y="293.8" width="2.80" height="30.0" fill="#00ff00"/><rect x="239.25" y="286.0" width="2.80" height="22.8" fill="#00ff00"/><rect x="241.81" y="283.8" width="2.80" height="15.0" fill="#00ff00"/><rect x="244.38" y="285.0" width="2.80" height="6.0" fill="#00ff00"/><rect x="246.94" y="287.5" width="2.80" height="6.5" fill="#f8f4e6"/><rect x="249.50" y="290.1" width="2.80" height="4.8" fill="#00ff00"/><rect x="252.06" y="292.0" width="2.80" height="6.8" fill="#f8f4e6"/><rect x="254.63" y="295.0" width="2.80" height="7.5" fill="#f8f4e6"/><rect x="257.19" y="298.8" width="2.80" height="8.8" fill="#f8f4e6"/><rect x="259.75" y="301.0" width="2.80" height="15.0" fill="#f8f4e6"/><rect x="262.31" y="308.8" width="2.80" height="24.2" fill="#ff0010"/><rect x="264.88" y="320.0" width="2.80" height="17.5" fill="#ff0010"/><rect x="267.44" y="329.4" width="2.80" height="13.1" fill="#ff0010"/><rect x="270.00" y="336.0" width="2.80" height="15.0" fill="#ff0010"/><rect x="272.57" y="343.5" width="2.80" height="12.5" fill="#ff0010"/><rect x="275.13" y="349.7" width="2.80" height="12.8" fill="#ff0010"/><rect x="277.69" y="356.1" width="2.80" height="11.4" fill="#ff0010"/><rect x="280.25" y="361.0" width="2.80" height="20.0" fill="#ff0010"/><rect x="282.82" y="370.0" width="2.80" height="24.0" fill="#ff0010"/><rect x="285.38" y="382.5" width="2.80" height="18.5" fill="#ff0010"/><rect x="287.94" y="390.0" width="2.80" height="15.0" fill="#ff0010"/><rect x="290.50" y="391.0" width="2.80" height="10.0" fill="#ff0010"/><rect x="293.07" y="387.5" width="2.80" height="8.1" fill="#f8f4e6"/><rect x="295.63" y="383.8" width="2.80" height="8.8" fill="#f8f4e6"/><rect x="298.19" y="375.6" width="2.80" height="11.8" fill="#f8f4e6"/><rect x="300.75" y="377.5" width="2.80" height="6.2" fill="#f8f4e6"/><rect x="303.32" y="379.5" width="2.80" height="6.1" fill="#f8f4e6"/><rect x="305.88" y="382.5" width="2.80" height="10.0" fill="#ff0010"/><rect x="308.44" y="387.5" width="2.80" height="15.0" fill="#ff0010"/><rect x="311.01" y="395.0" width="2.80" height="17.5" fill="#ff0010"/><rect x="313.57" y="403.8" width="2.80" height="13.7" fill="#ff0010"/><rect x="316.13" y="410.6" width="2.80" height="13.1" fill="#ff0010"/><rect x="318.69" y="417.2" width="2.80" height="11.6" fill="#ff0010"/><rect x="321.26" y="423.0" width="2.80" height="12.0" fill="#ff0010"/><rect x="323.82" y="429.0" width="2.80" height="11.0" fill="#ff0010"/><rect x="326.38" y="434.0" width="2.80" height="7.0" fill="#ff0010"/><rect x="328.94" y="437.1" width="2.80" height="4.8" fill="#ff0010"/><rect x="331.51" y="439.0" width="2.80" height="3.2" fill="#ff0010"/><rect x="334.07" y="439.1" width="2.80" height="4.5" fill="#ff0010"/><rect x="336.63" y="440.8" width="2.80" height="4.0" fill="#ff0010"/><rect x="339.20" y="441.2" width="2.80" height="3.5" fill="#ff0010"/><rect x="341.76" y="434.0" width="2.80" height="9.8" fill="#f8f4e6"/><rect x="344.32" y="433.0" width="2.80" height="7.0" fill="#f8f4e6"/><rect x="346.88" y="435.4" width="2.80" height="1.7" fill="#f8f4e6"/><rect x="349.45" y="428.0" width="2.80" height="9.0" fill="#f8f4e6"/><rect x="352.01" y="428.1" width="2.80" height="4.8" fill="#f8f4e6"/><rect x="354.57" y="430.0" width="2.80" height="5.5" fill="#f8f4e6"/><rect x="357.13" y="432.6" width="2.80" height="4.8" fill="#f8f4e6"/><rect x="359.70" y="433.9" width="2.80" height="4.8" fill="#f8f4e6"/><rect x="362.26" y="429.0" width="2.80" height="9.0" fill="#f8f4e6"/><rect x="364.82" y="420.6" width="2.80" height="13.1" fill="#f8f4e6"/><rect x="367.39" y="410.0" width="2.80" height="17.5" fill="#00ff00"/><rect x="369.95" y="407.5" width="2.80" height="12.5" fill="#00ff00"/><rect x="372.51" y="412.2" width="2.80" height="1.0" fill="#f8f4e6"/><rect x="375.07" y="412.2" width="2.80" height="1.0" fill="#f8f4e6"/><rect x="377.64" y="411.8" width="2.80" height="1.0" fill="#f8f4e6"/><rect x="380.20" y="411.4" width="2.80" height="1.0" fill="#f8f4e6"/><rect x="382.76" y="411.1" width="2.80" height="1.0" fill="#f8f4e6"/><rect x="385.32" y="406.0" width="2.80" height="6.5" fill="#00ff00"/><rect x="387.89" y="402.5" width="2.80" height="7.5" fill="#00ff00"/><rect x="390.45" y="395.6" width="2.80" height="10.4" fill="#00ff00"/><rect x="393.01" y="400.4" width="2.80" height="1.1" fill="#f8f4e6"/><rect x="395.57" y="401.4" width="2.80" height="1.1" fill="#f8f4e6"/><rect x="398.14" y="401.4" width="2.80" height="1.1" fill="#f8f4e6"/><rect x="400.70" y="402.0" width="2.80" height="1.3" fill="#f8f4e6"/><rect x="403.26" y="400.3" width="2.80" height="2.3" fill="#f8f4e6"/><rect x="405.83" y="397.6" width="2.80" height="5.4" fill="#f8f4e6"/><rect x="408.39" y="395.6" width="2.80" height="7.4" fill="#f8f4e6"/><rect x="410.95" y="387.0" width="2.80" height="13.0" fill="#00ff00"/><rect x="413.51" y="390.9" width="2.80" height="2.5" fill="#f8f4e6"/><rect x="416.08" y="390.4" width="2.80" height="2.0" fill="#f8f4e6"/><rect x="418.64" y="381.0" width="2.80" height="10.0" fill="#00ff00"/><rect x="421.20" y="375.0" width="2.80" height="12.5" fill="#00ff00"/><rect x="423.76" y="368.8" width="2.80" height="12.2" fill="#00ff00"/><rect x="426.33" y="363.0" width="2.80" height="12.0" fill="#00ff00"/><rect x="428.89" y="358.0" width="2.80" height="10.8" fill="#00ff00"/><rect x="431.45" y="356.0" width="2.80" height="7.8" fill="#00ff00"/><rect x="434.02" y="359.7" width="2.80" height="5.9" fill="#f8f4e6"/><rect x="436.58" y="362.6" width="2.80" height="9.9" fill="#f8f4e6"/><rect x="439.14" y="367.6" width="2.80" height="4.8" fill="#f8f4e6"/><rect x="441.70" y="369.0" width="2.80" height="6.0" fill="#f8f4e6"/><rect x="444.27" y="371.3" width="2.80" height="1.0" fill="#f8f4e6"/><rect x="446.83" y="365.0" width="2.80" height="7.5" fill="#f8f4e6"/><rect x="449.39" y="364.1" width="2.80" height="4.8" fill="#f8f4e6"/><rect x="451.95" y="364.3" width="2.80" height="2.3" fill="#f8f4e6"/><rect x="454.52" y="359.0" width="2.80" height="7.0" fill="#f8f4e6"/><rect x="457.08" y="350.0" width="2.80" height="12.5" fill="#00ff00"/><rect x="459.64" y="341.0" width="2.80" height="17.0" fill="#00ff00"/><rect x="462.20" y="342.0" width="2.80" height="8.0" fill="#00ff00"/><rect x="464.77" y="345.3" width="2.80" height="9.7" fill="#f8f4e6"/><rect x="467.33" y="350.0" width="2.80" height="12.0" fill="#f8f4e6"/><rect x="469.89" y="355.6" width="2.80" height="8.1" fill="#f8f4e6"/><rect x="472.46" y="359.0" width="2.80" height="16.0" fill="#ff0010"/><rect x="475.02" y="366.0" width="2.80" height="14.0" fill="#ff0010"/><rect x="477.58" y="373.7" width="2.80" height="21.3" fill="#ff0010"/><rect x="480.14" y="383.8" width="2.80" height="31.2" fill="#ff0010"/><rect x="482.71" y="397.5" width="2.80" height="25.0" fill="#ff0010"/><rect x="485.27" y="405.0" width="2.80" height="6.1" fill="#ff0010"/><rect x="487.83" y="395.0" width="2.80" height="13.8" fill="#f8f4e6"/><rect x="490.39" y="383.0" width="2.80" height="18.5" fill="#f8f4e6"/><rect x="492.96" y="388.8" width="2.80" height="7.2" fill="#f8f4e6"/><rect x="495.52" y="391.0" width="2.80" height="9.0" fill="#f8f4e6"/><rect x="498.08" y="395.0" width="2.80" height="22.5" fill="#ff0010"/><rect x="500.65" y="405.0" width="2.80" height="26.0" fill="#ff0010"/><rect x="503.21" y="416.0" width="2.80" height="29.0" fill="#ff0010"/><rect x="505.77" y="430.0" width="2.80" height="20.0" fill="#ff0010"/><rect x="508.33" y="438.8" width="2.80" height="12.2" fill="#ff0010"/><rect x="510.90" y="445.7" width="2.80" height="4.8" fill="#ff0010"/><rect x="513.46" y="447.8" width="2.80" height="2.9" fill="#ff0010"/><rect x="516.02" y="449.1" width="2.80" height="4.8" fill="#ff0010"/><rect x="518.58" y="451.2" width="2.80" height="4.3" fill="#ff0010"/><rect x="521.15" y="450.9" width="2.80" height="2.8" fill="#ff0010"/><rect x="523.71" y="451.2" width="2.80" height="3.5" fill="#ff0010"/><rect x="526.27" y="452.7" width="2.80" height="4.2" fill="#ff0010"/><rect x="528.84" y="455.2" width="2.80" height="3.5" fill="#ff0010"/><rect x="531.40" y="456.2" width="2.80" height="4.3" fill="#ff0010"/><rect x="533.96" y="457.6" width="2.80" height="5.4" fill="#ff0010"/><rect x="536.52" y="459.1" width="2.80" height="4.5" fill="#ff0010"/><rect x="539.09" y="460.9" width="2.80" height="2.5" fill="#ff0010"/><rect x="541.65" y="461.2" width="2.80" height="3.5" fill="#ff0010"/><rect x="544.21" y="461.4" width="2.80" height="2.0" fill="#ff0010"/><rect x="546.77" y="461.4" width="2.80" height="1.1" fill="#f8f4e6"/><rect x="549.34" y="461.8" width="2.80" height="3.6" fill="#ff0010"/><rect x="551.90" y="463.1" width="2.80" height="4.8" fill="#ff0010"/><rect x="554.46" y="465.7" width="2.80" height="5.3" fill="#ff0010"/><rect x="557.02" y="468.1" width="2.80" height="4.8" fill="#ff0010"/><rect x="559.59" y="470.9" width="2.80" height="2.8" fill="#ff0010"/><rect x="562.15" y="472.3" width="2.80" height="2.3" fill="#ff0010"/><rect x="564.71" y="472.8" width="2.80" height="2.4" fill="#ff0010"/><rect x="567.28" y="470.8" width="2.80" height="4.0" fill="#f8f4e6"/><rect x="569.84" y="469.1" width="2.80" height="4.5" fill="#f8f4e6"/><rect x="572.40" y="468.2" width="2.80" height="3.5" fill="#f8f4e6"/><rect x="574.96" y="466.2" width="2.80" height="3.5" fill="#f8f4e6"/><rect x="577.53" y="465.3" width="2.80" height="3.2" fill="#f8f4e6"/><rect x="580.09" y="466.2" width="2.80" height="3.5" fill="#f8f4e6"/><rect x="582.65" y="467.5" width="2.80" height="6.2" fill="#ff0010"/><rect x="585.21" y="470.0" width="2.80" height="6.0" fill="#ff0010"/><rect x="587.78" y="473.0" width="2.80" height="6.0" fill="#ff0010"/><rect x="590.34" y="476.2" width="2.80" height="4.3" fill="#ff0010"/><rect x="592.90" y="477.8" width="2.80" height="2.4" fill="#ff0010"/><rect x="595.47" y="477.8" width="2.80" height="2.3" fill="#ff0010"/><rect x="598.03" y="478.9" width="2.80" height="1.7" fill="#ff0010"/><rect x="600.59" y="479.3" width="2.80" height="2.3" fill="#ff0010"/><rect x="603.15" y="480.1" width="2.80" height="1.0" fill="#ff0010"/><rect x="605.72" y="479.8" width="2.80" height="1.0" fill="#f8f4e6"/><rect x="608.28" y="480.0" width="2.80" height="1.0" fill="#ff0010"/><rect x="610.84" y="480.0" width="2.80" height="1.0" fill="#ff0010"/><rect x="613.40" y="480.0" width="2.80" height="1.0" fill="#f8f4e6"/><rect x="615.97" y="480.2" width="2.80" height="1.0" fill="#ff0010"/><rect x="618.53" y="480.6" width="2.80" height="1.0" fill="#ff0010"/><rect x="621.09" y="480.8" width="2.80" height="1.0" fill="#ff0010"/><rect x="623.66" y="480.8" width="2.80" height="1.0" fill="#ff0010"/><rect x="626.22" y="480.8" width="2.80" height="1.0" fill="#ff0010"/><rect x="628.78" y="480.8" width="2.80" height="1.0" fill="#ff0010"/><rect x="631.34" y="480.8" width="2.80" height="1.0" fill="#f8f4e6"/><rect x="633.91" y="480.6" width="2.80" height="1.0" fill="#f8f4e6"/><rect x="636.47" y="480.8" width="2.80" height="1.0" fill="#f8f4e6"/><rect x="639.03" y="480.8" width="2.80" height="1.0" fill="#f8f4e6"/><rect x="641.59" y="480.8" width="2.80" height="1.0" fill="#f8f4e6"/><rect x="644.16" y="479.8" width="2.80" height="1.7" fill="#f8f4e6"/><rect x="646.72" y="478.9" width="2.80" height="2.0" fill="#f8f4e6"/><rect x="649.28" y="478.4" width="2.80" height="1.1" fill="#f8f4e6"/><rect x="651.84" y="478.4" width="2.80" height="1.1" fill="#00ff00"/><rect x="654.41" y="478.9" width="2.80" height="1.0" fill="#f8f4e6"/><rect x="656.97" y="479.4" width="2.80" height="1.1" fill="#f8f4e6"/><rect x="659.53" y="479.1" width="2.80" height="1.0" fill="#f8f4e6"/><rect x="662.10" y="478.7" width="2.80" height="1.0" fill="#f8f4e6"/><rect x="664.66" y="479.0" width="2.80" height="1.0" fill="#f8f4e6"/><rect x="667.22" y="479.0" width="2.80" height="1.0" fill="#f8f4e6"/><rect x="669.78" y="478.7" width="2.80" height="1.0" fill="#f8f4e6"/><rect x="672.35" y="478.5" width="2.80" height="1.0" fill="#f8f4e6"/><rect x="674.91" y="478.8" width="2.80" height="1.0" fill="#f8f4e6"/><rect x="677.47" y="479.0" width="2.80" height="1.0" fill="#f8f4e6"/><rect x="680.03" y="479.3" width="2.80" height="1.0" fill="#f8f4e6"/><rect x="682.60" y="479.8" width="2.80" height="1.0" fill="#ff0010"/><rect x="685.16" y="480.1" width="2.80" height="1.0" fill="#ff0010"/><rect x="687.72" y="480.2" width="2.80" height="1.0" fill="#ff0010"/><rect x="690.29" y="480.6" width="2.80" height="1.0" fill="#f8f4e6"/><rect x="692.85" y="480.8" width="2.80" height="3.3" fill="#ff0010"/><rect x="695.41" y="482.2" width="2.80" height="3.9" fill="#ff0010"/><rect x="697.97" y="484.1" width="2.80" height="1.7" fill="#ff0010"/><rect x="700.54" y="484.8" width="2.80" height="1.2" fill="#ff0010"/><rect x="703.10" y="484.8" width="2.80" height="1.0" fill="#ff0010"/><rect x="705.66" y="484.3" width="2.80" height="1.0" fill="#f8f4e6"/><rect x="708.22" y="484.3" width="2.80" height="1.0" fill="#f8f4e6"/><rect x="710.79" y="484.7" width="2.80" height="3.1" fill="#ff0010"/><rect x="713.35" y="486.0" width="2.80" height="1.6" fill="#ff0010"/><rect x="715.91" y="486.2" width="2.80" height="2.4" fill="#ff0010"/><rect x="718.48" y="487.2" width="2.80" height="3.9" fill="#ff0010"/><rect x="721.04" y="488.3" width="2.80" height="3.1" fill="#ff0010"/><rect x="723.60" y="489.2" width="2.80" height="1.0" fill="#f8f4e6"/><rect x="726.16" y="489.2" width="2.80" height="3.5" fill="#ff0010"/><rect x="728.73" y="490.3" width="2.80" height="2.3" fill="#ff0010"/><rect x="731.29" y="490.7" width="2.80" height="1.0" fill="#f8f4e6"/><rect x="733.85" y="490.9" width="2.80" height="1.0" fill="#f8f4e6"/><rect x="736.41" y="492.0" width="2.80" height="3.4" fill="#ff0010"/><rect x="738.98" y="493.2" width="2.80" height="4.2" fill="#ff0010"/><rect x="741.54" y="495.4" width="2.80" height="1.7" fill="#ff0010"/><rect x="744.10" y="495.4" width="2.80" height="1.1" fill="#ff0010"/><rect x="746.66" y="494.8" width="2.80" height="1.2" fill="#ff0010"/><rect x="749.23" y="490.6" width="2.80" height="6.4" fill="#f8f4e6"/><rect x="751.79" y="488.9" width="2.80" height="4.8" fill="#f8f4e6"/><rect x="754.35" y="488.3" width="2.80" height="2.6" fill="#f8f4e6"/><rect x="756.92" y="487.9" width="2.80" height="1.4" fill="#f8f4e6"/><rect x="759.48" y="487.6" width="2.80" height="1.0" fill="#f8f4e6"/><rect x="762.04" y="487.4" width="2.80" height="1.0" fill="#f8f4e6"/><rect x="764.60" y="487.2" width="2.80" height="1.0" fill="#f8f4e6"/><rect x="767.17" y="486.9" width="2.80" height="1.0" fill="#f8f4e6"/><rect x="769.73" y="485.3" width="2.80" height="3.2" fill="#00ff00"/><rect x="772.29" y="485.9" width="2.80" height="1.0" fill="#f8f4e6"/><rect x="774.85" y="485.9" width="2.80" height="1.0" fill="#f8f4e6"/><rect x="777.42" y="485.9" width="2.80" height="1.0" fill="#f8f4e6"/><rect x="779.98" y="486.4" width="2.80" height="2.0" fill="#f8f4e6"/><rect x="782.54" y="486.8" width="2.80" height="2.6" fill="#f8f4e6"/><rect x="785.11" y="485.9" width="2.80" height="2.8" fill="#f8f4e6"/><rect x="787.67" y="481.0" width="2.80" height="6.5" fill="#00ff00"/><rect x="790.23" y="483.2" width="2.80" height="1.1" fill="#f8f4e6"/><rect x="792.79" y="483.2" width="2.80" height="1.1" fill="#f8f4e6"/><rect x="795.36" y="483.1" width="2.80" height="2.1" fill="#f8f4e6"/><rect x="797.92" y="484.3" width="2.80" height="2.2" fill="#f8f4e6"/><rect x="800.48" y="485.6" width="2.80" height="1.7" fill="#f8f4e6"/><rect x="803.04" y="486.0" width="2.80" height="1.3" fill="#f8f4e6"/><rect x="805.61" y="486.0" width="2.80" height="1.3" fill="#f8f4e6"/><rect x="808.17" y="484.8" width="2.80" height="2.1" fill="#f8f4e6"/><rect x="810.73" y="484.7" width="2.80" height="3.1" fill="#f8f4e6"/><rect x="813.29" y="486.4" width="2.80" height="4.8" fill="#ff0010"/><rect x="815.86" y="487.5" width="2.80" height="6.2" fill="#ff0010"/><rect x="818.42" y="490.0" width="2.80" height="6.2" fill="#ff0010"/><rect x="820.98" y="492.6" width="2.80" height="5.4" fill="#ff0010"/><rect x="823.55" y="495.2" width="2.80" height="4.0" fill="#ff0010"/><rect x="826.11" y="497.1" width="2.80" height="5.4" fill="#ff0010"/><rect x="828.67" y="498.8" width="2.80" height="7.5" fill="#ff0010"/><rect x="831.23" y="501.5" width="2.80" height="10.5" fill="#ff0010"/><rect x="833.80" y="507.5" width="2.80" height="18.8" fill="#ff0010"/><rect x="836.36" y="515.5" width="2.80" height="9.8" fill="#ff0010"/><rect x="838.92" y="511.5" width="2.80" height="9.6" fill="#f8f4e6"/><rect x="841.48" y="507.5" width="2.80" height="9.8" fill="#f8f4e6"/><rect x="844.05" y="507.0" width="2.80" height="6.0" fill="#f8f4e6"/><rect x="846.61" y="508.4" width="2.80" height="1.8" fill="#f8f4e6"/><rect x="849.17" y="508.7" width="2.80" height="8.8" fill="#f8f4e6"/><rect x="851.74" y="505.0" width="2.80" height="8.8" fill="#f8f4e6"/><rect x="854.30" y="492.5" width="2.80" height="17.5" fill="#f8f4e6"/><rect x="856.86" y="490.6" width="2.80" height="10.2" fill="#f8f4e6"/><rect x="859.42" y="490.0" width="2.80" height="5.6" fill="#f8f4e6"/><rect x="861.99" y="490.3" width="2.80" height="2.3" fill="#f8f4e6"/><rect x="864.55" y="489.7" width="2.80" height="2.4" fill="#f8f4e6"/><rect x="867.11" y="489.1" width="2.80" height="2.0" fill="#f8f4e6"/><rect x="869.67" y="488.9" width="2.80" height="1.2" fill="#f8f4e6"/><rect x="872.24" y="488.4" width="2.80" height="1.6" fill="#f8f4e6"/><rect x="874.80" y="487.8" width="2.80" height="2.4" fill="#f8f4e6"/><rect x="877.36" y="487.2" width="2.80" height="2.4" fill="#00ff00"/><rect x="879.93" y="486.6" width="2.80" height="2.5" fill="#00ff00"/><rect x="882.49" y="486.4" width="2.80" height="1.8" fill="#00ff00"/><rect x="885.05" y="485.6" width="2.80" height="1.7" fill="#00ff00"/><rect x="887.61" y="485.1" width="2.80" height="1.7" fill="#00ff00"/><rect x="890.18" y="485.9" width="2.80" height="1.4" fill="#f8f4e6"/><rect x="892.74" y="486.7" width="2.80" height="1.4" fill="#f8f4e6"/><rect x="895.30" y="487.3" width="2.80" height="1.2" fill="#f8f4e6"/><rect x="897.86" y="486.9" width="2.80" height="1.1" fill="#f8f4e6"/><rect x="900.43" y="486.6" width="2.80" height="1.0" fill="#f8f4e6"/><rect x="902.99" y="486.7" width="2.80" height="1.4" fill="#f8f4e6"/><rect x="905.55" y="486.5" width="2.80" height="3.2" fill="#f8f4e6"/><rect x="908.11" y="485.1" width="2.80" height="4.8" fill="#f8f4e6"/><rect x="910.68" y="478.8" width="2.80" height="9.8" fill="#00ff00"/><rect x="913.24" y="467.0" width="2.80" height="18.0" fill="#00ff00"/><rect x="915.80" y="451.0" width="2.80" height="26.5" fill="#00ff00"/><rect x="918.37" y="447.5" width="2.80" height="18.0" fill="#00ff00"/><rect x="920.93" y="436.0" width="2.80" height="19.2" fill="#00ff00"/><rect x="923.49" y="445.8" width="2.80" height="4.0" fill="#f8f4e6"/><rect x="926.05" y="448.0" width="2.80" height="4.4" fill="#f8f4e6"/><rect x="928.62" y="428.8" width="2.80" height="21.4" fill="#00ff00"/><rect x="931.18" y="422.0" width="2.80" height="17.5" fill="#00ff00"/><rect x="933.74" y="426.0" width="2.80" height="6.5" fill="#00ff00"/><rect x="936.30" y="413.0" width="2.80" height="15.4" fill="#00ff00"/><rect x="938.87" y="410.6" width="2.80" height="10.4" fill="#00ff00"/><rect x="941.43" y="409.8" width="2.80" height="7.8" fill="#00ff00"/><rect x="943.99" y="412.3" width="2.80" height="2.3" fill="#00ff00"/><rect x="946.56" y="413.0" width="2.80" height="10.8" fill="#f8f4e6"/><rect x="949.12" y="417.5" width="2.80" height="11.2" fill="#f8f4e6"/><rect x="951.68" y="423.0" width="2.80" height="7.6" fill="#f8f4e6"/><rect x="954.24" y="427.3" width="2.80" height="3.1" fill="#f8f4e6"/><rect x="956.81" y="428.4" width="2.80" height="1.8" fill="#f8f4e6"/><rect x="959.37" y="429.2" width="2.80" height="1.0" fill="#f8f4e6"/><rect x="961.93" y="429.4" width="2.80" height="1.1" fill="#f8f4e6"/><rect x="964.49" y="429.4" width="2.80" height="5.5" fill="#f8f4e6"/><rect x="967.06" y="432.0" width="2.80" height="15.0" fill="#ff0010"/><rect x="969.62" y="438.0" width="2.80" height="7.0" fill="#ff0010"/><rect x="972.18" y="440.3" width="2.80" height="2.3" fill="#f8f4e6"/><rect x="974.75" y="440.6" width="2.80" height="6.9" fill="#ff0010"/><rect x="977.31" y="443.0" width="2.80" height="5.7" fill="#ff0010"/><rect x="979.87" y="445.4" width="2.80" height="1.7" fill="#ff0010"/></g>
<g font-family="Liberation Sans, sans-serif"><text x="44.7" y="68.2" font-size="21.0" font-weight="bold" fill="#ffffff" text-anchor="start" textLength="300.0" lengthAdjust="spacingAndGlyphs">SWISS 10Y VS US YIELD CURVE</text><text x="44.7" y="104.2" font-size="14.3" font-weight="normal" fill="#d8d8c6" text-anchor="start" textLength="254.5" lengthAdjust="spacingAndGlyphs" stroke="#d8d8c6" stroke-width="0.30">CH10Y/(US10Y/US02Y) · 1M · Heikin Ashi</text><text x="44.9" y="140.1" font-size="11.0" font-weight="normal" fill="#dcdccc" text-anchor="start" textLength="145.5" lengthAdjust="spacingAndGlyphs" stroke="#dcdccc" stroke-width="0.30">FEDFUNDS · Federal Reserve</text><text x="198.2" y="140.1" font-size="11.0" font-weight="normal" fill="#35a045" text-anchor="start" textLength="21.8" lengthAdjust="spacingAndGlyphs" stroke="#35a045" stroke-width="0.30">5.33</text><text x="44.9" y="161.4" font-size="11.0" font-weight="normal" fill="#dcdccc" text-anchor="start" textLength="40.0" lengthAdjust="spacingAndGlyphs" stroke="#dcdccc" stroke-width="0.30">RSI Bars</text><text x="44.9" y="182.5" font-size="11.0" font-weight="normal" fill="#dcdccc" text-anchor="start" textLength="35.5" lengthAdjust="spacingAndGlyphs" stroke="#dcdccc" stroke-width="0.30">SMA 60</text><text x="79.9" y="561.1" font-size="11.0" font-weight="bold" fill="#e6e6d6" text-anchor="middle" textLength="23.5" lengthAdjust="spacingAndGlyphs">1995</text><text x="172.2" y="561.1" font-size="11.0" font-weight="bold" fill="#e6e6d6" text-anchor="middle" textLength="23.5" lengthAdjust="spacingAndGlyphs">1998</text><text x="264.4" y="561.1" font-size="11.0" font-weight="bold" fill="#e6e6d6" text-anchor="middle" textLength="23.5" lengthAdjust="spacingAndGlyphs">2001</text><text x="356.7" y="561.1" font-size="11.0" font-weight="bold" fill="#e6e6d6" text-anchor="middle" textLength="23.5" lengthAdjust="spacingAndGlyphs">2004</text><text x="448.9" y="561.1" font-size="11.0" font-weight="bold" fill="#e6e6d6" text-anchor="middle" textLength="23.5" lengthAdjust="spacingAndGlyphs">2007</text><text x="541.2" y="561.1" font-size="11.0" font-weight="bold" fill="#e6e6d6" text-anchor="middle" textLength="23.5" lengthAdjust="spacingAndGlyphs">2010</text><text x="633.4" y="561.1" font-size="11.0" font-weight="bold" fill="#e6e6d6" text-anchor="middle" textLength="23.5" lengthAdjust="spacingAndGlyphs">2013</text><text x="725.7" y="561.1" font-size="11.0" font-weight="bold" fill="#e6e6d6" text-anchor="middle" textLength="23.5" lengthAdjust="spacingAndGlyphs">2016</text><text x="818.0" y="561.1" font-size="11.0" font-weight="bold" fill="#e6e6d6" text-anchor="middle" textLength="23.5" lengthAdjust="spacingAndGlyphs">2019</text><text x="910.2" y="561.1" font-size="11.0" font-weight="bold" fill="#e6e6d6" text-anchor="middle" textLength="23.5" lengthAdjust="spacingAndGlyphs">2022</text><text x="52.2" y="619.8" font-size="16.0" font-weight="bold" fill="#ffffff" text-anchor="start" textLength="93.5" lengthAdjust="spacingAndGlyphs">May 12, 2024</text><text x="854.8" y="622.1" font-size="29.0" font-weight="normal" fill="#ffffff" text-anchor="start" textLength="127.0" lengthAdjust="spacingAndGlyphs">fathomlab</text></g>
<g fill="#ffffff"><circle cx="824.5" cy="593.6" r="5.5"/><circle cx="837.3" cy="608.2" r="10.5"/><circle cx="830.3" cy="625.8" r="6.9"/><path d="M828.3 614.8 Q830.6 618.3 825.6 620.8 L836.8 622.6 Q835.6 619.6 839 618.6 Z"/></g>
</svg>
</body></html>
